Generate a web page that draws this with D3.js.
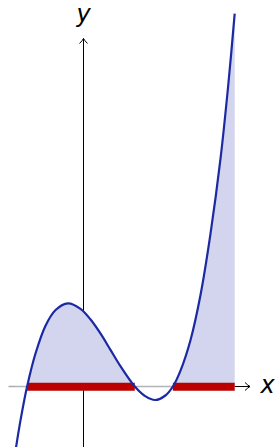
<!DOCTYPE html>
<html>
<head>
<meta charset="utf-8">
<script src="https://cdn.jsdelivr.net/npm/d3@7"></script>
<style>
  body { margin: 0; background: #fff; }
  svg { display: block; }
  .lbl { font-family: "DejaVu Sans", sans-serif; font-style: italic; font-size: 24px; fill: #000; }
</style>
</head>
<body>
<svg id="chart" width="275" height="447"></svg>
<script>
// points (1 unit = 30px)
var xs = [-2.28, -2.10, -1.88, -1.60, -1.27, -0.93, -0.52, -0.10, 0.23, 0.57, 0.90, 1.23, 1.71,
          2.07, 2.39, 2.73, 2.98, 3.23, 3.57, 3.90, 4.23, 4.57, 4.83, 5.04];
var ys = [-2.23, -1.13, 0, 1.10, 2.02, 2.55, 2.77, 2.59, 2.24, 1.76, 1.22, 0.68, 0,
          -0.33, -0.45, -0.30, 0, 0.52, 1.56, 3.05, 5.07, 7.62, 10.1, 12.43];

// where f(x) > 0
var positive = [[-1.88, 1.71], [2.98, 5.04]];

var xAxisRange = [-2.5, 5.55];
var yAxisRange = [-2.05, 11.6];

var width = 275, height = 447;
var svg = d3.select('#chart');

var x = d3.scaleLinear().domain([0, 1]).range([83.5, 113.5]);
var y = d3.scaleLinear().domain([0, 1]).range([386.5, 356.5]);

var pts = xs.map(function(d, i) { return [d, ys[i]]; });

// arrow head marker
var defs = svg.append('defs');
defs.append('marker')
  .attr('id', 'arr')
  .attr('viewBox', '-6 -5 8 10')
  .attr('markerWidth', 8).attr('markerHeight', 10)
  .attr('refX', 0).attr('refY', 0)
  .attr('markerUnits', 'userSpaceOnUse')
  .attr('orient', 'auto')
  .append('path')
  .attr('d', 'M-5,-4 Q-2,-1 0,0 Q-2,1 -5,4')
  .attr('fill', 'none').attr('stroke', '#000').attr('stroke-width', 1);

// keep the fill above the x axis
defs.append('clipPath').attr('id', 'above')
  .append('rect')
  .attr('x', 0).attr('y', 0)
  .attr('width', width).attr('height', y(0));

// y axis
svg.append('line')
  .attr('x1', x(0)).attr('x2', x(0))
  .attr('y1', y(yAxisRange[0])).attr('y2', y(yAxisRange[1]))
  .attr('stroke', '#000').attr('stroke-width', 1)
  .attr('marker-end', 'url(#arr)');

// x axis: grey part under the plot, black arrow beyond
svg.append('line')
  .attr('x1', x(xAxisRange[0])).attr('x2', x(xs[xs.length - 1]))
  .attr('y1', y(0)).attr('y2', y(0))
  .attr('stroke', '#aaa').attr('stroke-width', 1.3);
svg.append('line')
  .attr('x1', x(xs[xs.length - 1])).attr('x2', x(xAxisRange[1]))
  .attr('y1', y(0)).attr('y2', y(0))
  .attr('stroke', '#000').attr('stroke-width', 1)
  .attr('marker-end', 'url(#arr)');

// shaded area
var area = d3.area()
  .x(function(d) { return x(d[0]); })
  .y0(y(0))
  .y1(function(d) { return y(d[1]); })
  .curve(d3.curveCatmullRom.alpha(0.5));

svg.append('path')
  .datum(pts)
  .attr('d', area)
  .attr('fill', '#d3d5ee')
  .attr('clip-path', 'url(#above)');

// red intervals
svg.selectAll('.seg')
  .data(positive)
  .enter()
  .append('line')
  .attr('class', 'seg')
  .attr('x1', function(d) { return x(d[0]); })
  .attr('x2', function(d) { return x(d[1]); })
  .attr('y1', y(0) + 0.2).attr('y2', y(0) + 0.2)
  .attr('stroke', '#bb0000').attr('stroke-width', 8);

// curve
var line = d3.line()
  .x(function(d) { return x(d[0]); })
  .y(function(d) { return y(d[1]); })
  .curve(d3.curveCatmullRom.alpha(0.5));

svg.append('path')
  .datum(pts)
  .attr('d', line)
  .attr('fill', 'none')
  .attr('stroke', '#1b2aa3')
  .attr('stroke-width', 2.2);

// labels
svg.append('text').attr('class', 'lbl')
  .attr('x', x(0)).attr('y', 22)
  .attr('text-anchor', 'middle')
  .text('y');
svg.append('text').attr('class', 'lbl')
  .attr('x', 267.5).attr('y', 393)
  .attr('text-anchor', 'middle')
  .text('x');
</script>
</body>
</html>
